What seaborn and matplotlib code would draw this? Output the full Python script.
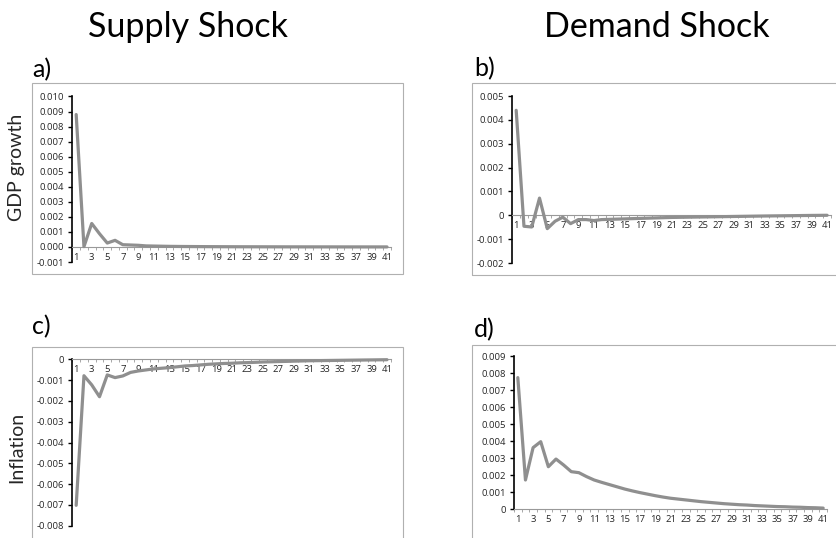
import numpy as np
import pandas as pd
import matplotlib
matplotlib.use("Agg")
import matplotlib.pyplot as plt
from matplotlib.patches import Rectangle
import seaborn as sns

periods = list(range(1, 42))

gdp_supply = [0.0088, 0.00002, 0.00156, 0.00088, 0.00026, 0.00044, 0.00015, 0.00013, 0.00011, 0.00007,
              0.00006, 0.00005, 0.00004, 0.000035, 0.00003, 0.000027, 0.000024, 0.000021, 0.000019, 0.000017,
              0.000015, 0.000014, 0.000013, 0.000012, 0.000011, 0.00001, 0.000009, 0.000008, 0.0000075, 0.000007,
              0.0000065, 0.000006, 0.0000055, 0.000005, 0.0000045, 0.000004, 0.0000038, 0.0000035, 0.0000032,
              0.000003, 0.0000028]

gdp_demand = [0.0044, -0.00046, -0.00049, 0.00072, -0.00056, -0.00025, -0.00008, -0.00035, -0.00018, -0.00018,
              -0.00022, -0.00018, -0.00017, -0.00016, -0.00015, -0.00014, -0.00013, -0.00012, -0.00011, -0.0001,
              -0.00009, -0.000085, -0.00008, -0.000075, -0.00007, -0.000065, -0.00006, -0.000055, -0.00005,
              -0.000045, -0.00004, -0.000035, -0.00003, -0.000026, -0.000022, -0.000018, -0.000014, -0.00001,
              -0.000006, -0.000003, 0.0]

infl_supply = [-0.00702, -0.00079, -0.00123, -0.0018, -0.00075, -0.00088, -0.0008, -0.00063, -0.00056, -0.00051,
               -0.00046, -0.00043, -0.0004, -0.00036, -0.00032, -0.0003, -0.00027, -0.00024, -0.00022, -0.0002,
               -0.00019, -0.00017, -0.00016, -0.000145, -0.00013, -0.00012, -0.00011, -0.0001, -0.00009, -0.00008,
               -0.00007, -0.000065, -0.00006, -0.000055, -0.00005, -0.000045, -0.00004, -0.000035, -0.00003,
               -0.000025, -0.00002]

infl_demand = [0.00773, 0.00172, 0.00362, 0.00397, 0.0025, 0.00295, 0.0026, 0.00221, 0.00215, 0.00192,
               0.00172, 0.00158, 0.00145, 0.00132, 0.00119, 0.00108, 0.00098, 0.00089, 0.0008, 0.00072,
               0.00065, 0.0006, 0.00055, 0.0005, 0.00045, 0.00041, 0.00037, 0.00033, 0.0003, 0.00027,
               0.00025, 0.00022, 0.0002, 0.00018, 0.00016, 0.00015, 0.00013, 0.00012, 0.0001, 0.00009, 0.00007]

yticks_a = [-0.001, 0.000, 0.001, 0.002, 0.003, 0.004, 0.005, 0.006, 0.007, 0.008, 0.009, 0.010]
ylabels_a = ["-0.001", "0.000", "0.001", "0.002", "0.003", "0.004", "0.005", "0.006", "0.007", "0.008", "0.009", "0.010"]
yticks_b = [-0.002, -0.001, 0.0, 0.001, 0.002, 0.003, 0.004, 0.005]
ylabels_b = ["-0.002", "-0.001", "0", "0.001", "0.002", "0.003", "0.004", "0.005"]
yticks_c = [-0.008, -0.007, -0.006, -0.005, -0.004, -0.003, -0.002, -0.001, 0.0]
ylabels_c = ["-0.008", "-0.007", "-0.006", "-0.005", "-0.004", "-0.003", "-0.002", "-0.001", "0"]
yticks_d = [0.0, 0.001, 0.002, 0.003, 0.004, 0.005, 0.006, 0.007, 0.008, 0.009]
ylabels_d = ["0", "0.001", "0.002", "0.003", "0.004", "0.005", "0.006", "0.007", "0.008", "0.009"]
xtick_labels = [str(p) for p in periods if p % 2 == 1]

col_titles = ["Supply Shock", "Demand Shock"]
row_labels = ["GDP growth", "Inflation"]
panel_tags = ["a)", "b)", "c)", "d)"]

sns.set_style("white")
plt.rcParams['font.family'] = ['Lato', 'DejaVu Sans']

W, H = 836, 538
fig = plt.figure(figsize=(W / 100, H / 100), dpi=100)
fig.patch.set_facecolor("white")


def fx(x):
    return x / W


def fy(y):
    return 1 - y / H


def add_axes_px(left, right, top, bottom):
    return fig.add_axes([fx(left), fy(bottom), fx(right) - fx(left), fy(top) - fy(bottom)])


# outer grey frames (Excel chart areas)
frames = [(32, 403, 83, 274), (472, 842, 83, 275), (32, 403, 347, 545), (472, 842, 345, 545)]
for (l, r, t, b) in frames:
    fig.patches.append(Rectangle((fx(l), fy(b)), fx(r) - fx(l), fy(t) - fy(b), transform=fig.transFigure,
                                 fill=False, edgecolor="#b0b0b0", linewidth=0.8, zorder=0))

panels = [
    (gdp_supply, yticks_a, ylabels_a, (72.3, 390.9, 96.5, 262.0)),
    (gdp_demand, yticks_b, ylabels_b, (512.3, 831.0, 96.0, 263.0)),
    (infl_supply, yticks_c, ylabels_c, (72.3, 390.9, 359.3, 525.7)),
    (infl_demand, yticks_d, ylabels_d, (514.0, 827.0, 356.0, 509.3)),
]

for vals, yt, yl, box in panels:
    ax = add_axes_px(*box)
    ax.patch.set_alpha(0)
    df = pd.DataFrame({"period": periods, "value": vals})
    sns.lineplot(data=df, x="period", y="value", ax=ax, color="#8f8f8f", linewidth=2.3, clip_on=False)
    ax.set_xlim(0.5, 41.5)
    ax.set_ylim(yt[0], yt[-1])
    ax.set_xlabel("")
    ax.set_ylabel("")
    for s in ["top", "right"]:
        ax.spines[s].set_visible(False)
    ax.spines["left"].set_color("black")
    ax.spines["left"].set_linewidth(1.2)
    ax.spines["bottom"].set_position(("data", 0))
    ax.spines["bottom"].set_color("#999999")
    ax.spines["bottom"].set_linewidth(0.8)
    ax.set_yticks(yt)
    ax.set_yticklabels(yl, fontfamily="Open Sans", fontsize=6.8)
    ax.tick_params(axis="y", direction="out", length=3, width=1, color="black", pad=3.0, left=True)
    ax.set_xticks([p for p in periods if p % 2 == 1])
    ax.set_xticklabels(xtick_labels, fontfamily="Open Sans", fontsize=6.8)
    ax.set_xticks([p + 0.5 for p in range(0, 42)], minor=True)
    ax.tick_params(axis="x", which="major", length=0, pad=4.0)
    ax.tick_params(axis="x", which="minor", direction="out", length=2.2, width=0.6, color="#999999", bottom=True)
    ax.grid(False)
    ax.lines[0].set_zorder(3)

# column titles
fig.text(fx(188.5), fy(27), col_titles[0], ha="center", va="center", fontsize=24.5, color="black")
fig.text(fx(657), fy(27), col_titles[1], ha="center", va="center", fontsize=24.5, color="black")

# panel tags
tag_pos = [(32, 70), (474, 69), (32, 327), (474, 330)]
for tag, (x, y) in zip(panel_tags, tag_pos):
    fig.text(fx(x), fy(y), tag, ha="left", va="center", fontsize=18, color="black")

# row labels
fig.text(fx(17), fy(167), row_labels[0], ha="center", va="center", rotation=90, fontsize=14)
fig.text(fx(17), fy(447), row_labels[1], ha="center", va="center", rotation=90, fontsize=14)

fig.savefig("out.png", dpi=100, facecolor="white")
